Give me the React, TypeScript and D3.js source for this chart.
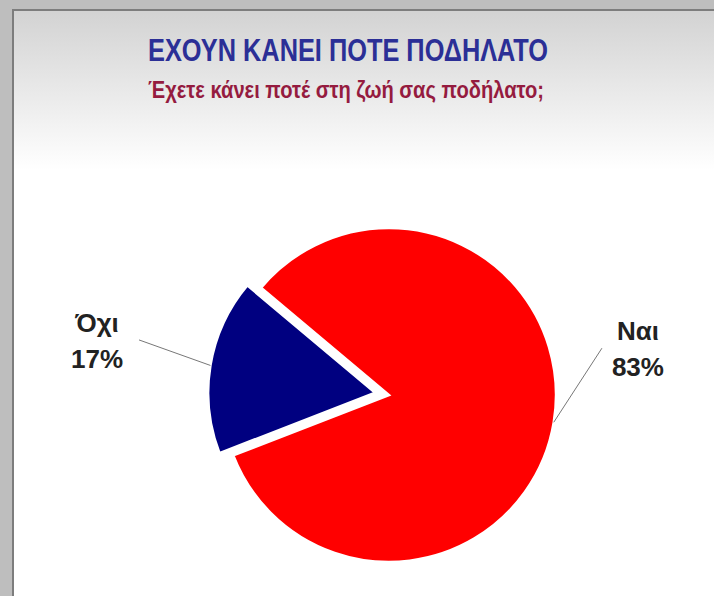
import * as d3 from 'd3';

const title = 'ΕΧΟΥΝ ΚΑΝΕΙ ΠΟΤΕ ΠΟΔΗΛΑΤΟ';
const subtitle = 'Έχετε κάνει ποτέ στη ζωή σας ποδήλατο;';

const categories = ['Ναι', 'Όχι'];
const values = [83, 17];
const colors = ['#ff0000', '#000080'];
// exploded slices (px) and where each leader line ends (polar, around slice centre)
const explode = [0, 14];
const leaderEnd = [
  { r: 218, deg: 77.6, dx: 36 },
  { r: 242, deg: 282.6, dx: -42 },
];

const width = 714;
const height = 596;
const cx = 389;
const cy = 395;
const radius = 167;

const rad = (deg: number) => (deg * Math.PI) / 180;

function PieChart() {
  const pie = d3
    .pie<number>()
    .sort(null)
    .startAngle(rad(-50))
    .endAngle(rad(310));
  const arcs = pie(values);
  const arc = d3.arc<d3.PieArcDatum<number>>().innerRadius(0).outerRadius(radius);

  const font = '"Liberation Sans Narrow", "Arial Narrow", "Liberation Sans", Arial, sans-serif';

  return (
    <svg width={width} height={height} style={{ position: 'fixed', left: 0, top: 0 }}>
      <defs>
        <linearGradient id="panel" x1="0" y1="9" x2="0" y2="170" gradientUnits="userSpaceOnUse">
          <stop offset="0" stopColor="#d2d2d2" />
          <stop offset="1" stopColor="#ffffff" />
        </linearGradient>
      </defs>
      <rect width={width} height={height} fill="#bebebe" />
      <rect x={12} y={9} width={width} height={height} fill="url(#panel)" />
      <path d={`M13,${height}V10H${width}`} fill="none" stroke="#7d7d7d" strokeWidth={2} />

      <text x={348} y={61} textAnchor="middle" fontFamily={font} fontWeight="bold"
        fontSize={32} fill="#2b2f96" textLength={400} lengthAdjust="spacingAndGlyphs">
        {title}
      </text>
      <text x={346} y={98} textAnchor="middle" fontFamily={font} fontWeight="bold"
        fontSize={24} fill="#951b3f" textLength={396} lengthAdjust="spacingAndGlyphs">
        {subtitle}
      </text>

      {arcs.map((a, i) => {
        const mid = (a.startAngle + a.endAngle) / 2;
        const ox = cx + Math.sin(mid) * explode[i];
        const oy = cy - Math.cos(mid) * explode[i];
        const sx = ox + Math.sin(mid) * radius;
        const sy = oy - Math.cos(mid) * radius;
        const le = leaderEnd[i];
        const ex = ox + Math.sin(rad(le.deg)) * le.r;
        const ey = oy - Math.cos(rad(le.deg)) * le.r;
        const tx = ex + le.dx;
        return (
          <g key={categories[i]}>
            <path
              d={arc(a) ?? undefined}
              transform={`translate(${ox},${oy})`}
              fill={colors[i]}
              stroke="#ffffff"
              strokeWidth={2.5}
            />
            <line x1={sx} y1={sy} x2={ex} y2={ey} stroke="#777" strokeWidth={1} />
            <text x={tx} y={ey - 8} textAnchor="middle" fontFamily={font} fontWeight="bold"
              fontSize={26} fill="#222">
              {categories[i]}
            </text>
            <text x={tx} y={ey + 28} textAnchor="middle" fontFamily={font} fontWeight="bold"
              fontSize={26} fill="#222">
              {values[i]}%
            </text>
          </g>
        );
      })}
    </svg>
  );
}

export default function App() {
  return <PieChart />;
}
